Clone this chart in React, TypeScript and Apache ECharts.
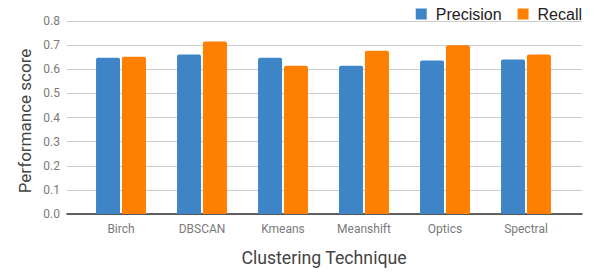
import React, { useEffect, useRef } from "react";
import * as echarts from "echarts";

const categories = ["Birch", "DBSCAN", "Kmeans", "Meanshift", "Optics", "Spectral"];
const precision = [0.648, 0.661, 0.648, 0.615, 0.636, 0.64];
const recall = [0.652, 0.715, 0.615, 0.677, 0.7, 0.661];
const yTicksMax = 0.8;

export default function App() {
  const ref = useRef<HTMLDivElement>(null);
  useEffect(() => {
    if (!ref.current) return;
    const chart = echarts.init(ref.current, null, { renderer: "svg" });
    const font = "Roboto, 'Noto Sans', sans-serif";
    chart.setOption({
      animation: false,
      backgroundColor: "#ffffff",
      legend: {
        data: ["Precision", "Recall"],
        right: 18,
        top: 6,
        icon: "rect",
        itemWidth: 11,
        itemHeight: 11,
        itemGap: 16,
        padding: 0,
        textStyle: {
          fontSize: 16,
          color: "#222",
          fontFamily: "'Liberation Sans', Arial, sans-serif",
          padding: [0, 0, 0, 4],
        },
      },
      grid: [
        { left: 67, right: 18, top: 21, bottom: 58 },
        { left: 80.5, right: 33.5, top: 21, bottom: 58 },
      ],
      xAxis: [
        {
          gridIndex: 0,
          type: "value",
          min: 0,
          max: 1,
          axisLine: { show: true, onZero: false, lineStyle: { color: "#333", width: 1.5 } },
          axisTick: { show: false },
          axisLabel: { show: false },
          splitLine: { show: false },
        },
        {
          gridIndex: 1,
          type: "category",
          data: categories,
          axisLine: { show: false },
          axisTick: { show: false },
          axisLabel: { color: "#7a7a7a", fontSize: 12, margin: 9, fontFamily: font },
        },
      ],
      yAxis: [
        {
          gridIndex: 0,
          type: "value",
          min: 0,
          max: yTicksMax,
          interval: 0.1,
          axisLine: { show: false },
          axisTick: { show: false },
          axisLabel: {
            color: "#7a7a7a",
            fontSize: 12,
            margin: 7,
            fontFamily: font,
            formatter: (v: number) => v.toFixed(1),
          },
          splitLine: { lineStyle: { color: "#cccccc", width: 1 } },
        },
        {
          gridIndex: 1,
          type: "value",
          min: 0,
          max: yTicksMax,
          show: false,
          splitLine: { show: false },
        },
      ],
      series: [
        {
          name: "Precision",
          type: "bar",
          xAxisIndex: 1,
          yAxisIndex: 1,
          data: precision,
          barWidth: 24,
          barGap: "8%",
          itemStyle: { color: "#3d85c6", borderRadius: [2, 2, 0, 0] },
        },
        {
          name: "Recall",
          type: "bar",
          xAxisIndex: 1,
          yAxisIndex: 1,
          data: recall,
          barWidth: 24,
          barGap: "8%",
          itemStyle: { color: "#ff7f00", borderRadius: [2, 2, 0, 0] },
        },
      ],
      graphic: [
        {
          type: "text",
          x: 25,
          y: 121,
          rotation: Math.PI / 2,
          style: {
            text: "Performance score",
            fill: "#444",
            fontSize: 17,
            fontFamily: font,
            align: "center",
            verticalAlign: "middle",
          },
        },
        {
          type: "text",
          x: 324,
          y: 258,
          style: {
            text: "Clustering Technique",
            fill: "#444",
            fontSize: 17.7,
            fontFamily: font,
            align: "center",
            verticalAlign: "middle",
          },
        },
      ],
    });
    return () => chart.dispose();
  }, []);
  return <div ref={ref} style={{ width: 600, height: 272, position: "absolute", left: 0, top: 0 }} />;
}
